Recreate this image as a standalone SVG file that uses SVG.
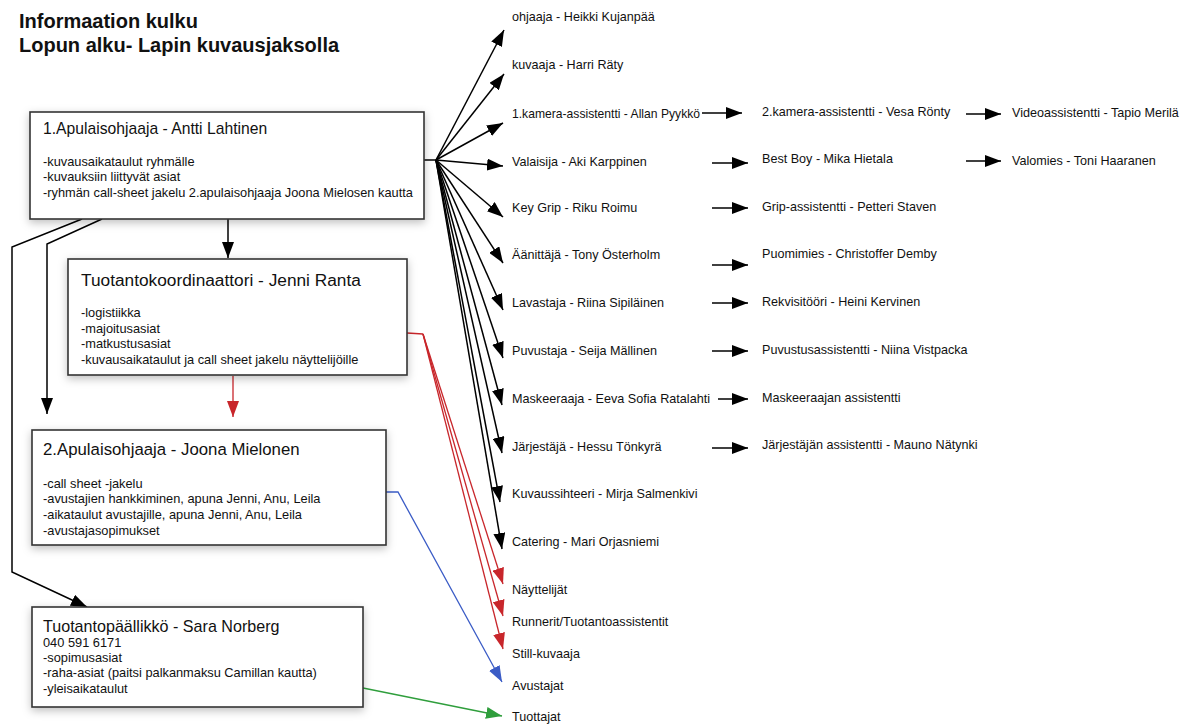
<svg xmlns="http://www.w3.org/2000/svg" width="1192" height="727" viewBox="0 0 1192 727">
<defs>
<style>
text{font-family:"Liberation Sans",Arial,sans-serif;fill:#111}
.h{font-weight:bold;font-size:20px}
.t{font-size:12.6px}
.b{font-size:12.8px}
.box{fill:#fff;stroke:#333;stroke-width:1.6}
.k{stroke:#000;stroke-width:1.5;fill:none}
.r{stroke:#c8262b;stroke-width:1.3;fill:none}
.bl{stroke:#3b5cc6;stroke-width:1.3;fill:none}
.g{stroke:#2f9e3c;stroke-width:1.3;fill:none}
</style>
<filter id="sh" x="-10%" y="-20%" width="120%" height="150%">
<feDropShadow dx="0" dy="3" stdDeviation="4" flood-color="#000" flood-opacity="0.25"/>
</filter>
<marker id="ak" markerUnits="userSpaceOnUse" markerWidth="16" markerHeight="12" refX="16" refY="6" orient="auto"><path d="M0,0 L16,6 L0,12 z" fill="#000"/></marker>
<marker id="ar" markerUnits="userSpaceOnUse" markerWidth="16" markerHeight="12" refX="16" refY="6" orient="auto"><path d="M0,0 L16,6 L0,12 z" fill="#c8262b"/></marker>
<marker id="ab" markerUnits="userSpaceOnUse" markerWidth="16" markerHeight="12" refX="16" refY="6" orient="auto"><path d="M0,0 L16,6 L0,12 z" fill="#3b5cc6"/></marker>
<marker id="ag" markerUnits="userSpaceOnUse" markerWidth="16" markerHeight="12" refX="16" refY="6" orient="auto"><path d="M0,0 L16,6 L0,12 z" fill="#2f9e3c"/></marker>
</defs>
<rect width="1192" height="727" fill="#fff"/>
<g id="title">
<text class="h" x="19" y="28">Informaation kulku</text>
<text class="h" x="19" y="52">Lopun alku- Lapin kuvausjaksolla</text>
</g>
<g id="connectors">
<path class="k" d="M424,160 L436,160"/>
<path class="k" marker-end="url(#ak)" d="M436,160 L504,30"/>
<path class="k" marker-end="url(#ak)" d="M436,160 L504,74"/>
<path class="k" marker-end="url(#ak)" d="M436,160 L503,123"/>
<path class="k" marker-end="url(#ak)" d="M436,160 L503,166"/>
<path class="k" marker-end="url(#ak)" d="M436,160 L503,217"/>
<path class="k" marker-end="url(#ak)" d="M436,160 L503,263"/>
<path class="k" marker-end="url(#ak)" d="M436,160 L503,310"/>
<path class="k" marker-end="url(#ak)" d="M436,160 L503,358"/>
<path class="k" marker-end="url(#ak)" d="M436,160 L502,405"/>
<path class="k" marker-end="url(#ak)" d="M436,160 L502,453"/>
<path class="k" marker-end="url(#ak)" d="M436,160 L500,502"/>
<path class="k" marker-end="url(#ak)" d="M436,160 L502,549"/>
<path class="k" marker-end="url(#ak)" d="M702,113 L742,113"/>
<path class="k" marker-end="url(#ak)" d="M712,163 L748,163"/>
<path class="k" marker-end="url(#ak)" d="M712,208 L748,208"/>
<path class="k" marker-end="url(#ak)" d="M712,265 L748,265"/>
<path class="k" marker-end="url(#ak)" d="M712,303 L748,303"/>
<path class="k" marker-end="url(#ak)" d="M712,351 L748,351"/>
<path class="k" marker-end="url(#ak)" d="M718,399 L748,399"/>
<path class="k" marker-end="url(#ak)" d="M712,448 L748,448"/>
<path class="k" marker-end="url(#ak)" d="M966,114 L1001,114"/>
<path class="k" marker-end="url(#ak)" d="M966,161 L1001,161"/>
<path class="k" marker-end="url(#ak)" d="M228,219 L228,258"/>
<path class="k" marker-end="url(#ak)" d="M102,219 L47,244 L47,414"/>
<path class="k" marker-end="url(#ak)" d="M82,219 L12,247 L12,572 L87,607"/>
<path class="r" marker-end="url(#ar)" d="M233,376 L233,417"/>
<path class="r" d="M407,333 L423,334"/>
<path class="r" marker-end="url(#ar)" d="M423,334 L503,584"/>
<path class="r" marker-end="url(#ar)" d="M423,334 L503,616"/>
<path class="r" marker-end="url(#ar)" d="M423,334 L503,649"/>
<path class="bl" marker-end="url(#ab)" d="M386,492 L398,492 L502,682"/>
<path class="g" marker-end="url(#ag)" d="M363,688 L502,716"/>
</g>
<g id="box1">
<rect class="box" filter="url(#sh)" x="30" y="112" width="394" height="107"/>
<text x="43" y="134" style="font-size:15.7px">1.Apulaisohjaaja - Antti Lahtinen</text>
<text class="b" x="43" y="166">-kuvausaikataulut ryhmälle</text>
<text class="b" x="43" y="181">-kuvauksiin liittyvät asiat</text>
<text class="b" x="43" y="197">-ryhmän call-sheet jakelu 2.apulaisohjaaja Joona Mielosen kautta</text>
</g>
<g id="box2">
<rect class="box" filter="url(#sh)" x="68" y="259" width="339" height="116"/>
<text x="81" y="286" style="font-size:17.3px">Tuotantokoordinaattori - Jenni Ranta</text>
<text class="b" x="81" y="317">-logistiikka</text>
<text class="b" x="81" y="333">-majoitusasiat</text>
<text class="b" x="81" y="348">-matkustusasiat</text>
<text class="b" x="81" y="364">-kuvausaikataulut ja call sheet jakelu näyttelijöille</text>
</g>
<g id="box3">
<rect class="box" filter="url(#sh)" x="32" y="430" width="354" height="115"/>
<text x="43" y="455" style="font-size:16.8px">2.Apulaisohjaaja - Joona Mielonen</text>
<text class="b" x="43" y="488">-call sheet -jakelu</text>
<text class="b" x="43" y="503">-avustajien hankkiminen, apuna Jenni, Anu, Leila</text>
<text class="b" x="43" y="519">-aikataulut avustajille, apuna Jenni, Anu, Leila</text>
<text class="b" x="43" y="535">-avustajasopimukset</text>
</g>
<g id="box4">
<rect class="box" filter="url(#sh)" x="32" y="607" width="331" height="100"/>
<text x="43" y="632" style="font-size:16.1px">Tuotantopäällikkö - Sara Norberg</text>
<text class="b" x="43" y="647">040 591 6171</text>
<text class="b" x="43" y="662">-sopimusasiat</text>
<text class="b" x="43" y="677">-raha-asiat (paitsi palkanmaksu Camillan kautta)</text>
<text class="b" x="43" y="693">-yleisaikataulut</text>
</g>
<g id="colA">
<text class="t" x="512" y="20.5">ohjaaja - Heikki Kujanpää</text>
<text class="t" x="512" y="68.5">kuvaaja - Harri Räty</text>
<text class="t" x="512" y="117.5" textLength="188" lengthAdjust="spacingAndGlyphs">1.kamera-assistentti - Allan Pyykkö</text>
<text class="t" x="512" y="165.5">Valaisija - Aki Karppinen</text>
<text class="t" x="512" y="211.5">Key Grip - Riku Roimu</text>
<text class="t" x="512" y="258.5">Äänittäjä - Tony Österholm</text>
<text class="t" x="512" y="306.5">Lavastaja - Riina Sipiläinen</text>
<text class="t" x="512" y="354.5">Puvustaja - Seija Mällinen</text>
<text class="t" x="512" y="402.5" textLength="198" lengthAdjust="spacingAndGlyphs">Maskeeraaja - Eeva Sofia Ratalahti</text>
<text class="t" x="512" y="450.5">Järjestäjä - Hessu Tönkyrä</text>
<text class="t" x="512" y="497.5">Kuvaussihteeri - Mirja Salmenkivi</text>
<text class="t" x="512" y="545.5">Catering - Mari Orjasniemi</text>
<text class="t" x="512" y="593.5">Näyttelijät</text>
<text class="t" x="512" y="625.5">Runnerit/Tuotantoassistentit</text>
<text class="t" x="512" y="657.5">Still-kuvaaja</text>
<text class="t" x="512" y="689.5">Avustajat</text>
<text class="t" x="512" y="721">Tuottajat</text>
</g>
<g id="colB">
<text class="t" x="762" y="115.5">2.kamera-assistentti - Vesa Rönty</text>
<text class="t" x="762" y="162.5">Best Boy - Mika Hietala</text>
<text class="t" x="762" y="210.5">Grip-assistentti - Petteri Staven</text>
<text class="t" x="762" y="257.5">Puomimies - Christoffer Demby</text>
<text class="t" x="762" y="305.5">Rekvisitööri - Heini Kervinen</text>
<text class="t" x="762" y="353.5">Puvustusassistentti - Niina Vistpacka</text>
<text class="t" x="762" y="401.5">Maskeeraajan assistentti</text>
<text class="t" x="762" y="448.5">Järjestäjän assistentti - Mauno Nätynki</text>
</g>
<g id="colC">
<text class="t" x="1012" y="116.5">Videoassistentti - Tapio Merilä</text>
<text class="t" x="1012" y="164.5">Valomies - Toni Haaranen</text>
</g>
</svg>
